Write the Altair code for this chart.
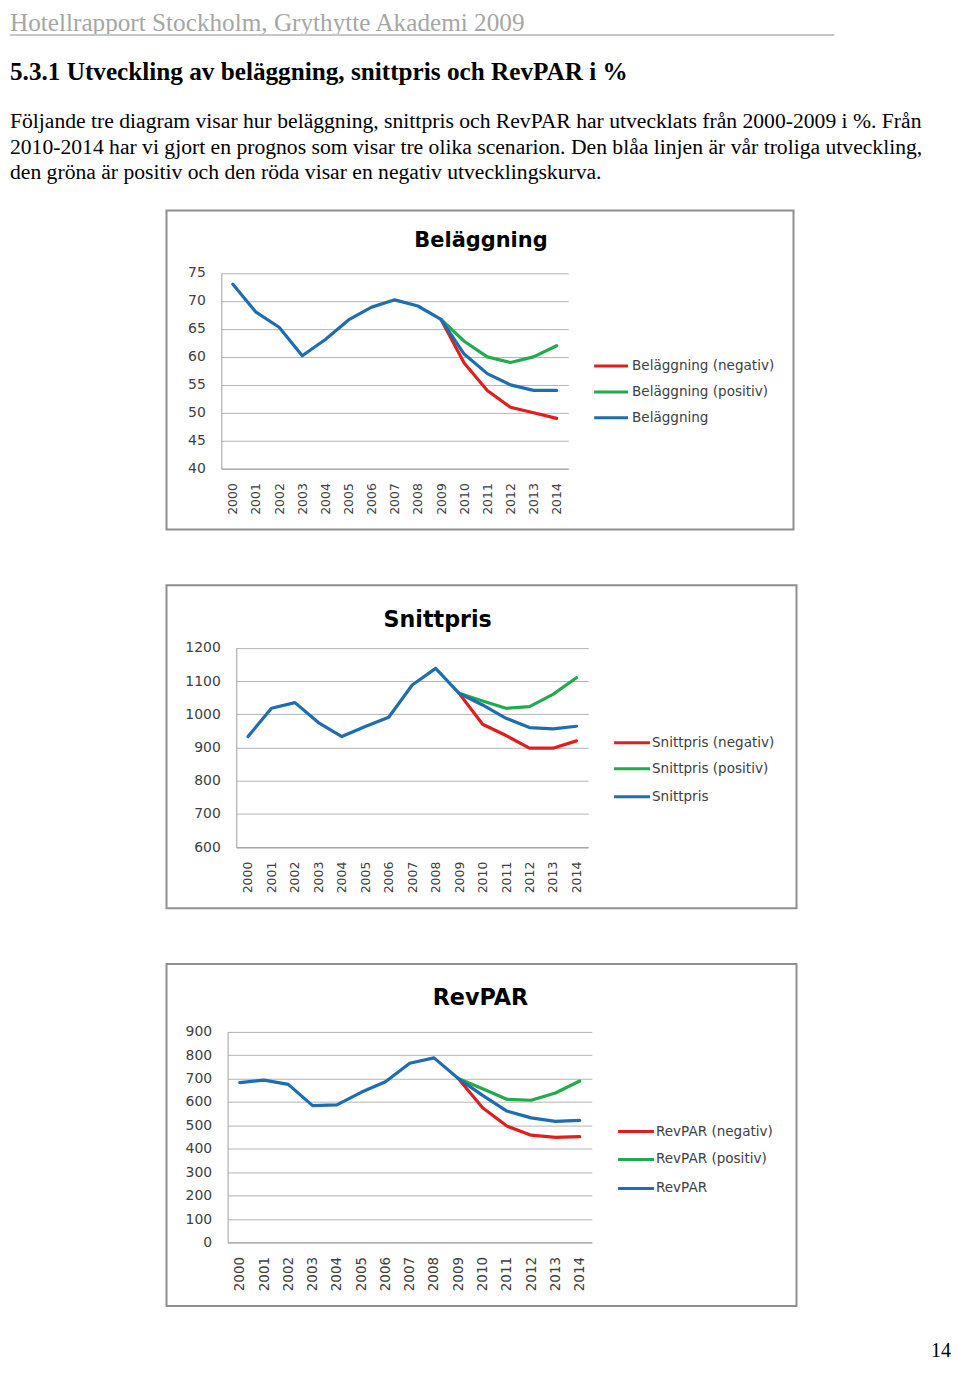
import altair as alt
import pandas as pd

# ---------------- data ----------------
years = [2000, 2001, 2002, 2003, 2004, 2005, 2006, 2007, 2008, 2009, 2010, 2011, 2012, 2013, 2014]
fc_years = [2009, 2010, 2011, 2012, 2013, 2014]

bel_labels = ["Beläggning (negativ)", "Beläggning (positiv)", "Beläggning"]
bel_base = [73.0, 68.0, 65.3, 60.2, 63.1, 66.6, 68.9, 70.2, 69.1, 66.7, 60.5, 57.0, 55.0, 54.0, 54.0]
bel_pos = [66.7, 62.8, 60.0, 59.0, 60.0, 62.0]
bel_neg = [66.7, 58.9, 54.0, 51.0, 50.0, 49.0]
bel_ticks = [40, 45, 50, 55, 60, 65, 70, 75]

snitt_labels = ["Snittpris (negativ)", "Snittpris (positiv)", "Snittpris"]
snitt_base = [933, 1018, 1035, 975, 933, 963, 991, 1088, 1138, 1063, 1028, 988, 960, 956, 964]
snitt_pos = [1063, 1040, 1018, 1023, 1060, 1110]
snitt_neg = [1063, 970, 936, 898, 898, 920]
snitt_ticks = [600, 700, 800, 900, 1000, 1100, 1200]

rev_labels = ["RevPAR (negativ)", "RevPAR (positiv)", "RevPAR"]
rev_base = [682, 693, 675, 584, 587, 641, 686, 765, 788, 700, 628, 561, 532, 517, 521]
rev_pos = [700, 656, 611, 607, 638, 689]
rev_neg = [700, 575, 497, 458, 449, 452]
rev_ticks = [0, 100, 200, 300, 400, 500, 600, 700, 800, 900]

header_text = ["Hotellrapport Stockholm, Grythytte Akademi 2009"]
heading_text = ["5.3.1 Utveckling av beläggning, snittpris och RevPAR i %"]
para_lines = [
    "Följande tre diagram visar hur beläggning, snittpris och RevPAR har utvecklats från 2000-2009 i %. Från",
    "2010-2014 har vi gjort en prognos som visar tre olika scenarion. Den blåa linjen är vår troliga utveckling,",
    "den gröna är positiv och den röda visar en negativ utvecklingskurva.",
]
page_number = ["14"]

colors = ["#e01e1e", "#22aa4f", "#1e6db3"]

CHART_FONT = "DejaVu Sans"
PAGE_FONT = "Liberation Serif"
LABEL_COLOR = "#404040"


def text_layer(text, x, y, font, size, color="black", weight="normal", align="left", **kw):
    return alt.Chart(pd.DataFrame({"t": [text]})).mark_text(
        font=font, fontSize=size, fontWeight=weight, color=color,
        align=align, baseline="alphabetic", **kw
    ).encode(x=alt.value(x), y=alt.value(y), text="t:N")


def panel(title, labels, base, pos, neg, ydom, yticks, W, H, xr, yr,
          tx, ty, tsize, lx0, lx1, ltx, lys, xlab_size, extra=()):
    df = pd.concat([
        pd.DataFrame({"year": fc_years, "value": neg, "series": labels[0]}),
        pd.DataFrame({"year": fc_years, "value": pos, "series": labels[1]}),
        pd.DataFrame({"year": years, "value": base, "series": labels[2]}),
    ], ignore_index=True)

    lines = alt.Chart(df).mark_line(strokeWidth=3.2, strokeJoin="round", strokeCap="round").encode(
        x=alt.X("year:O", title=None,
                scale=alt.Scale(type="point", domain=years, range=xr, padding=0.5),
                axis=alt.Axis(orient="bottom", offset=-(H - yr[0]), labelAngle=-90,
                              labelPadding=14, ticks=False, grid=False, domain=True,
                              domainColor="#a0a0a0", domainWidth=1,
                              labelFont=CHART_FONT, labelFontSize=xlab_size,
                              labelColor=LABEL_COLOR)),
        y=alt.Y("value:Q", title=None,
                scale=alt.Scale(domain=ydom, range=yr, nice=False, zero=False),
                axis=alt.Axis(orient="left", offset=-xr[0], values=yticks, format="d",
                              labelPadding=16, ticks=False, grid=True,
                              gridColor="#b4b4b4", gridWidth=1, domain=True,
                              domainColor="#a0a0a0", domainWidth=1,
                              labelFont=CHART_FONT, labelFontSize=14,
                              labelColor=LABEL_COLOR)),
        color=alt.Color("series:N", scale=alt.Scale(domain=labels, range=colors), legend=None),
    )

    ttl = text_layer(title, tx, ty, CHART_FONT, tsize, weight="bold", align="center")

    legend_layers = []
    for lab, col, ly in zip(labels, colors, lys):
        legend_layers.append(
            alt.Chart(pd.DataFrame({"t": [lab]})).mark_rule(color=col, strokeWidth=3).encode(
                x=alt.value(lx0), x2=alt.value(lx1), y=alt.value(ly))
        )
        legend_layers.append(
            alt.Chart(pd.DataFrame({"t": [lab]})).mark_text(
                font=CHART_FONT, fontSize=13.6, color=LABEL_COLOR, align="left", baseline="middle"
            ).encode(x=alt.value(ltx), y=alt.value(ly), text="t:N")
        )

    return alt.layer(lines, ttl, *legend_layers, *extra).properties(width=W, height=H)


# page texts placed in the first panel (relative to its frame)
hdr = text_layer(header_text[0], -157, -180, PAGE_FONT, 25.3, color="#a6a6a6")
underline = alt.Chart(pd.DataFrame({"t": [0]})).mark_rule(color="#c8c8c8", strokeWidth=2).encode(
    x=alt.value(-157), x2=alt.value(670), y=alt.value(-176))
heading = text_layer(heading_text[0], -157, -131, PAGE_FONT, 25.3, weight="bold")
para = alt.Chart(pd.DataFrame({"t": ["\n".join(para_lines)]})).mark_text(
    font=PAGE_FONT, fontSize=21.7, color="black", align="left", baseline="alphabetic",
    lineBreak="\n", lineHeight=25.5
).encode(x=alt.value(-157), y=alt.value(-82.3), text="t:N")

pnum = text_layer(page_number[0], 787, 394, PAGE_FONT, 20, align="right")

p1 = panel("Beläggning", bel_labels, bel_base, bel_pos, bel_neg, [40, 75], bel_ticks,
           629, 320, [55, 403], [259, 62.7], 315.5, 36.7, 21,
           429, 463, 467, [156, 182, 208], 12.5,
           extra=(hdr, underline, heading, para))
p2 = panel("Snittpris", snitt_labels, snitt_base, snitt_pos, snitt_neg, [600, 1200], snitt_ticks,
           632, 324, [70, 423], [262.7, 62.7], 272, 41.7, 22.3,
           449, 485, 487, [158, 184, 212], 12.5)
p3 = panel("RevPAR", rev_labels, rev_base, rev_pos, rev_neg, [0, 900], rev_ticks,
           632, 343, [61.3, 426.7], [279.3, 67.7], 315, 40.7, 22.4,
           453, 489, 491, [168, 196, 225], 13.5,
           extra=(pnum,))

chart = alt.vconcat(p1, p2, p3, spacing=56, bounds="flush").resolve_scale(
    color="independent"
).configure_view(stroke="#8f8f8f", strokeWidth=2).properties(padding=0)

chart.save("out.html", embed_options={"renderer": "svg", "actions": False})
